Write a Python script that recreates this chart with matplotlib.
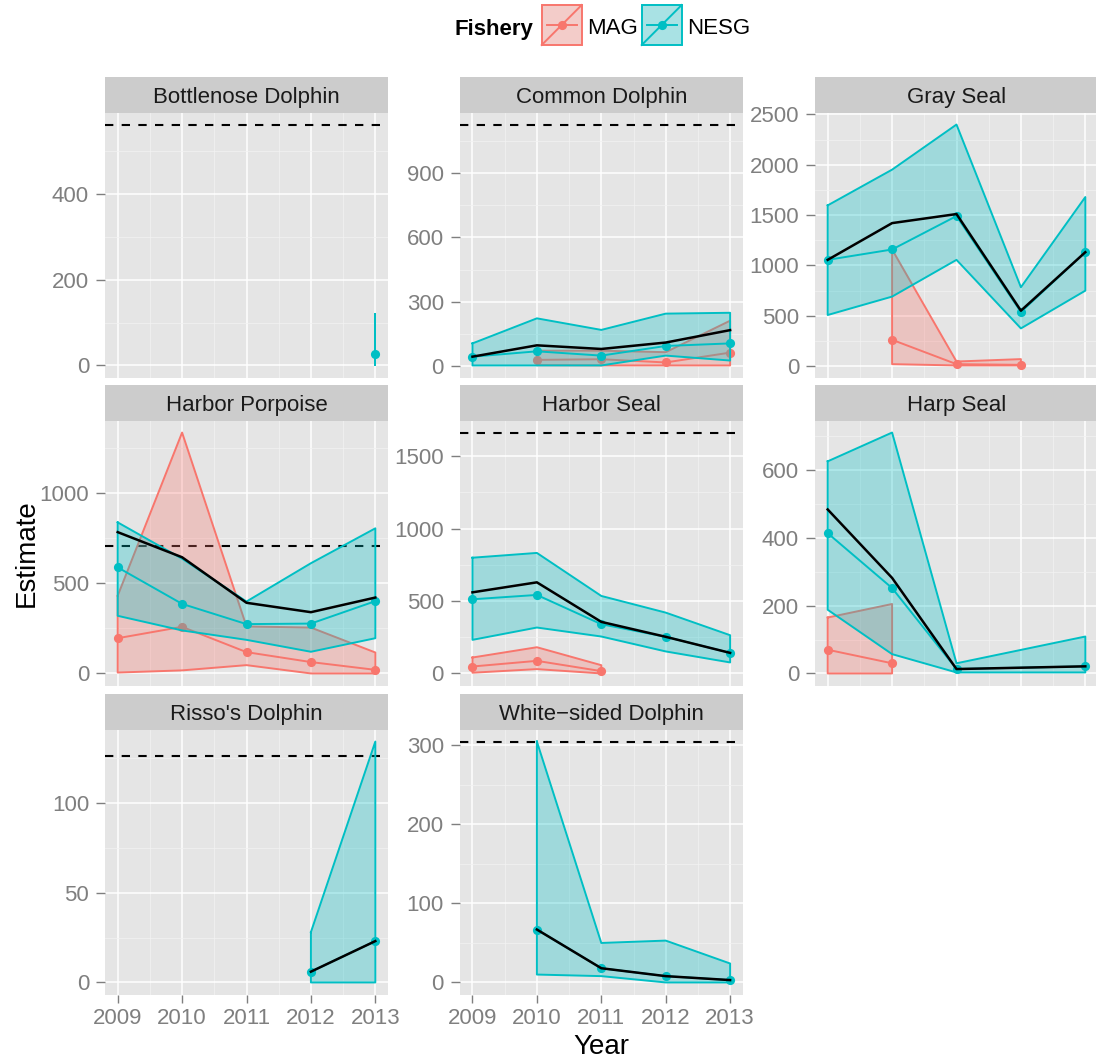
import numpy as np
import pandas as pd
import matplotlib
matplotlib.use('Agg')
import matplotlib.pyplot as plt
from matplotlib.patches import Rectangle

plt.rcParams['font.family'] = ['Liberation Sans', 'DejaVu Sans']
plt.rcParams['lines.scale_dashes'] = False

nan = np.nan

# Bycatch estimates by species and fishery, columns are 2009-2013
years = [2009, 2010, 2011, 2012, 2013]
species = ['Bottlenose Dolphin', 'Common Dolphin', 'Gray Seal',
           'Harbor Porpoise', 'Harbor Seal', 'Harp Seal',
           "Risso's Dolphin", 'White\u2212sided Dolphin']
pbr = [561, 1127, nan, 707, 1663, nan, 126, 305]

nesg_est = [
    [nan, nan, nan, nan, 27],
    [43, 68, 48, 93, 105],
    [1056, 1159, 1491, 538, 1132],
    [587, 385, 273, 276, 400],
    [512, 542, 340, 253, 142],
    [414, 252, 13, nan, 21],
    [nan, nan, nan, 6, 23],
    [nan, 67, 18, 8, 3],
]
nesg_lo = [
    [nan, nan, nan, nan, 0],
    [2, 2, 2, 48, 25],
    [508, 691, 1056, 375, 750],
    [319, 238, 186, 120, 195],
    [232, 317, 255, 152, 76],
    [188, 57, 3, nan, 3],
    [nan, nan, nan, 0, 0],
    [nan, 10, 8, 0, 0],
]
nesg_hi = [
    [nan, nan, nan, nan, 120],
    [105, 222, 168, 244, 248],
    [1597, 1952, 2400, 784, 1680],
    [836, 635, 398, 610, 803],
    [799, 832, 535, 420, 264],
    [626, 711, 30, nan, 109],
    [nan, nan, nan, 28, 134],
    [nan, 305, 50, 53, 24],
]
mag_est = [
    [nan, nan, nan, nan, nan],
    [nan, 28, 31, 16, 62],
    [nan, 262, 20, 13, nan],
    [195, 258, 118, 63, 20],
    [48, 87, 16, nan, nan],
    [70, 30, nan, nan, nan],
    [nan, nan, nan, nan, nan],
    [nan, nan, nan, nan, nan],
]
mag_lo = [
    [nan, nan, nan, nan, nan],
    [nan, 3, 2, 2, 2],
    [nan, 20, 7, 7, nan],
    [5, 17, 46, 0, 0],
    [5, 30, 0, nan, nan],
    [0, 0, nan, nan, nan],
    [nan, nan, nan, nan, nan],
    [nan, nan, nan, nan, nan],
]
mag_hi = [
    [nan, nan, nan, nan, nan],
    [nan, 71, 71, 64, 211],
    [nan, 1159, 46, 70, nan],
    [430, 1333, 260, 254, 116],
    [110, 181, 57, nan, nan],
    [165, 205, nan, nan, nan],
    [nan, nan, nan, nan, nan],
    [nan, nan, nan, nan, nan],
]
y_breaks = [[0, 200, 400], [0, 300, 600, 900], [0, 500, 1000, 1500, 2000, 2500],
            [0, 500, 1000], [0, 500, 1000, 1500], [0, 200, 400, 600],
            [0, 50, 100], [0, 100, 200, 300]]

fisheries = ['MAG', 'NESG']
fish_colors = {'MAG': '#F8766D', 'NESG': '#00BFC4'}

# long table, one row per species / fishery / year
rows = []
for i, sp in enumerate(species):
    for fish, est, lo, hi in [('MAG', mag_est, mag_lo, mag_hi),
                              ('NESG', nesg_est, nesg_lo, nesg_hi)]:
        for j, yr in enumerate(years):
            rows.append(dict(species=sp, fishery=fish, year=yr,
                             est=est[i][j], lo=lo[i][j], hi=hi[i][j]))
df = pd.DataFrame(rows).dropna(subset=['est'])
total = df.groupby(['species', 'year'], as_index=False)['est'].sum()

W, H = 1096, 1059
fig = plt.figure(figsize=(W / 100, H / 100), dpi=100)

col_left = [104.8, 459.6, 814.8]
panel_w = 283.4
row_top = [112.5, 420.5, 729.5]
panel_h = 265
strip_h = 36


def px_box(left, top, w, h):
    return [left / W, 1 - (top + h) / H, w / W, h / H]


grey_txt = '#7F7F7F'
lw_fish = 1.4

for i, sp in enumerate(species):
    r, c = divmod(i, 3)
    ax = fig.add_axes(px_box(col_left[c], row_top[r], panel_w, panel_h))
    ax.set_facecolor('#E5E5E5')
    for s in ax.spines.values():
        s.set_visible(False)

    d = df[df['species'] == sp]
    tot = total[total['species'] == sp]

    if not np.isnan(pbr[i]):
        ax.axhline(pbr[i], color='black', lw=1.5, linestyle=(0, (6, 6)), zorder=1.1)

    z = 1.2
    for fish in fisheries:
        f = d[d['fishery'] == fish].sort_values('year')
        if f.empty:
            continue
        col = fish_colors[fish]
        yr = f['year'].tolist()
        px = yr + yr[::-1]
        py = f['hi'].tolist() + f['lo'].tolist()[::-1]
        ax.fill(px, py, facecolor=col, alpha=0.3, edgecolor='none', zorder=z)
        ax.plot(px + [px[0]], py + [py[0]], color=col, lw=lw_fish, zorder=z + 0.01)
        ax.plot(yr, f['est'], color=col, lw=lw_fish, marker='o', ms=6.6,
                markeredgewidth=0, zorder=z + 0.02)
        z += 0.1

    ax.plot(tot['year'], tot['est'], color='black', lw=1.8, zorder=3)

    # y range covers ribbons, estimates and the PBR line, plus 5% padding
    vals = pd.concat([d['lo'], d['hi'], d['est']]).tolist()
    if not np.isnan(pbr[i]):
        vals.append(pbr[i])
    lo_v, hi_v = min(vals), max(vals)
    pad = (hi_v - lo_v) * 0.05
    y0, y1 = lo_v - pad, hi_v + pad

    # grid
    yb = y_breaks[i]
    step = yb[1] - yb[0]
    ax.set_yticks(yb)
    ax.set_yticklabels([str(v) for v in yb])
    minors = [v + step / 2 for v in [yb[0] - step] + yb]
    ax.set_yticks([m for m in minors if y0 <= m <= y1], minor=True)
    ax.set_xticks(years)
    ax.set_xticks([y + 0.5 for y in years[:-1]], minor=True)
    ax.set_ylim(y0, y1)
    ax.set_xlim(2009 - 0.2, 2013 + 0.2)
    ax.set_axisbelow(True)
    ax.grid(which='major', color='white', lw=1.1)
    ax.grid(which='minor', color='#F2F2F2', lw=0.55)
    ax.tick_params(which='minor', length=0)
    ax.tick_params(axis='y', which='major', length=6.3, width=1, color=grey_txt,
                   labelsize=16, labelcolor=grey_txt, pad=5)
    if r == 2:
        ax.set_xticklabels([str(y) for y in years])
        ax.tick_params(axis='x', which='major', length=6, width=1, color=grey_txt,
                       labelsize=16, labelcolor=grey_txt, pad=3.5)
    else:
        ax.tick_params(axis='x', which='major', length=0, labelbottom=False)

    # facet strip
    sax = fig.add_axes(px_box(col_left[c], row_top[r] - strip_h, panel_w, strip_h))
    sax.set_facecolor('#CCCCCC')
    sax.set_xticks([])
    sax.set_yticks([])
    for s in sax.spines.values():
        s.set_visible(False)
    sax.text(0.5, 0.26, sp, ha='center', va='baseline', fontsize=16,
             color='#1A1A1A', transform=sax.transAxes)

# overlay for titles and the legend, in pixel units
lax = fig.add_axes([0, 0, 1, 1])
lax.set_xlim(0, W)
lax.set_ylim(H, 0)
lax.axis('off')

lax.text(601, 1053.5, 'Year', ha='center', va='baseline', fontsize=20)
lax.text(33.5, 553, 'Estimate', rotation=90, rotation_mode='anchor',
         ha='center', va='baseline', fontsize=20)

lax.text(455, 34.5, 'Fishery', ha='left', va='baseline', fontsize=16,
         fontweight='bold')
key_x = {'MAG': 541.7, 'NESG': 641.7}
ks = 40
for fish in fisheries:
    col = fish_colors[fish]
    x0, y0 = key_x[fish], 5
    lax.add_patch(Rectangle((x0, y0), ks, ks, facecolor='#F2F2F2', edgecolor='none'))
    lax.add_patch(Rectangle((x0, y0), ks, ks, facecolor=col, alpha=0.3, edgecolor='none'))
    lax.add_patch(Rectangle((x0, y0), ks, ks, facecolor='none', edgecolor=col, lw=lw_fish))
    lax.plot([x0, x0 + ks], [y0 + ks, y0], color=col, lw=lw_fish)
    lax.plot([x0 + 5, x0 + ks - 5], [y0 + ks / 2] * 2, color=col, lw=lw_fish)
    lax.plot(x0 + ks / 2, y0 + ks / 2, 'o', color=col, ms=6.6, markeredgewidth=0)
    lax.text(x0 + ks + 5, 34.5, fish, ha='left', va='baseline', fontsize=16)

plt.savefig('out.png', dpi=100)
plt.close()
